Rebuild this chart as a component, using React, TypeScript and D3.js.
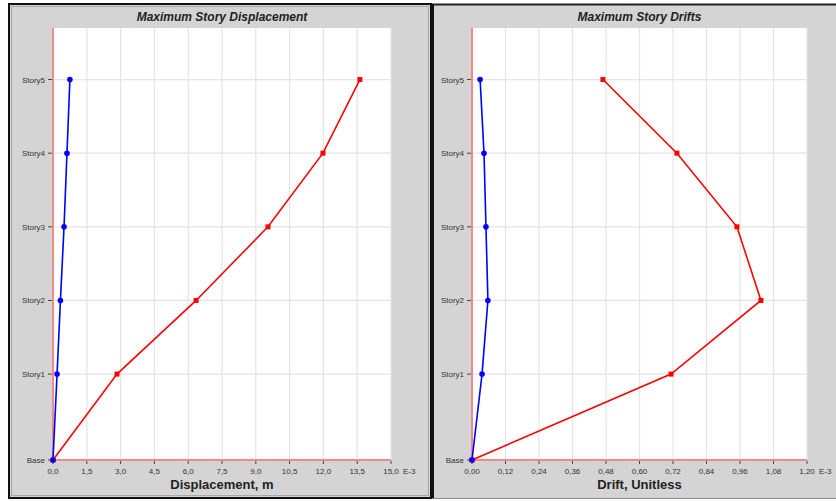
import React from 'react';
import * as d3 from 'd3';

// story levels (elevation, m) – base storey is a bit taller than the rest
const stories = ['Base', 'Story1', 'Story2', 'Story3', 'Story4', 'Story5'];
const elevations = [0, 3.5, 6.5, 9.5, 12.5, 15.5];

// Maximum Story Displacement (E-3 m)
const dispRed = [0, 2.84, 6.35, 9.54, 11.98, 13.62];
const dispBlue = [0, 0.18, 0.33, 0.49, 0.62, 0.75];
const dispTicks = [0, 1.5, 3.0, 4.5, 6.0, 7.5, 9.0, 10.5, 12.0, 13.5, 15.0];

// Maximum Story Drifts (E-3)
const driftRed = [0, 0.713, 1.035, 0.949, 0.734, 0.469];
const driftBlue = [0, 0.036, 0.057, 0.050, 0.043, 0.029];
const driftTicks = [0, 0.12, 0.24, 0.36, 0.48, 0.6, 0.72, 0.84, 0.96, 1.08, 1.2];

const FONT = '"Liberation Sans", Arial, sans-serif';
const PANEL_BG = '#d4d4d4';
const AXIS_RED = '#f08a8a';

interface PanelProps {
  title: string;
  xLabel: string;
  red: number[];
  blue: number[];
  ticks: number[];
  digits: number;
  left: number;
  right: number;
}

const Panel: React.FC<PanelProps> = ({ title, xLabel, red, blue, ticks, digits, left, right }) => {
  const top = 28, base = 460;
  const x = d3.scaleLinear().domain([0, ticks[ticks.length - 1]]).range([left, right]);
  const y = d3.scaleLinear().domain([0, 17.6]).range([base, top]);
  const line = d3.line<number>().x(d => x(d)).y((_, i) => y(elevations[i]));
  const fmt = (v: number) => d3.format(`.${digits}f`)(v).replace('.', ',');
  const cx = (left + right) / 2;

  return (
    <g>
      <rect x={left} y={top} width={right - left} height={base - top} fill="#fff" />
      {/* grid */}
      {ticks.slice(1).map(t => (
        <line key={t} x1={x(t)} x2={x(t)} y1={top} y2={base} stroke="#e4e4e4" strokeWidth={1.2} />
      ))}
      {elevations.slice(1).map(e => (
        <line key={e} x1={left} x2={right} y1={y(e)} y2={y(e)} stroke="#e4e4e4" strokeWidth={1.2} />
      ))}
      {/* axes */}
      <line x1={left} x2={left} y1={top} y2={base} stroke={AXIS_RED} strokeWidth={2} />
      <line x1={left} x2={right} y1={base} y2={base} stroke={AXIS_RED} strokeWidth={2} />
      {stories.map((s, i) => (
        <g key={s}>
          <line x1={left - 5} x2={left - 1} y1={y(elevations[i])} y2={y(elevations[i])} stroke="#444" />
          <text x={left - 8} y={y(elevations[i]) + 3} fontSize={8} fill="#333" textAnchor="end" fontFamily={FONT}>{s}</text>
        </g>
      ))}
      {ticks.map((t, i) => (
        <g key={t}>
          <line x1={x(t)} x2={x(t)} y1={base + 1} y2={base + 4} stroke="#444" />
          <text x={x(t)} y={474} fontSize={8} fill="#333" textAnchor="middle" fontFamily={FONT}>{fmt(t)}</text>
          {i === ticks.length - 1 && (
            <text x={x(t) + 12} y={474} fontSize={8} fill="#333" fontFamily={FONT}>E-3</text>
          )}
        </g>
      ))}
      {/* series */}
      <path d={line(red) || ''} fill="none" stroke="#ff0000" strokeWidth={1.6} />
      {red.map((v, i) => (
        <rect key={i} x={x(v) - 2.5} y={y(elevations[i]) - 2.5} width={5} height={5} fill="#ff0000" />
      ))}
      <path d={line(blue) || ''} fill="none" stroke="#0000ff" strokeWidth={1.6} />
      {blue.map((v, i) => (
        <circle key={i} cx={x(v)} cy={y(elevations[i])} r={2.8} fill="#0000ff" />
      ))}
      <text x={cx} y={21} fontSize={12} fontWeight="bold" fontStyle="italic" textAnchor="middle" fill="#222" fontFamily={FONT}>{title}</text>
      <text x={cx} y={489} fontSize={13} fontWeight="bold" textAnchor="middle" fill="#222" fontFamily={FONT}>{xLabel}</text>
    </g>
  );
};

const App: React.FC = () => {
  return (
    <svg width={836} height={501} style={{ position: 'absolute', left: 0, top: 0, background: '#fff' }}>
      {/* left panel frame */}
      <rect x={9} y={4} width={422} height={494} fill={PANEL_BG} stroke="#111" strokeWidth={2} />
      <rect x={11.5} y={6.5} width={417} height={489} fill="none" stroke="#a8a8a8" strokeWidth={1} />
      {/* right panel frame (runs past the image edge) */}
      <rect x={432} y={4} width={410} height={495} fill={PANEL_BG} stroke="none" />
      <line x1={432} x2={836} y1={4.5} y2={4.5} stroke="#222" strokeWidth={2} />
      <line x1={433} x2={433} y1={4} y2={499} stroke="#111" strokeWidth={2} />
      <line x1={432} x2={836} y1={498.5} y2={498.5} stroke="#888" strokeWidth={1} />

      <Panel title="Maximum Story Displacement" xLabel="Displacement, m" red={dispRed} blue={dispBlue}
        ticks={dispTicks} digits={1} left={53} right={391} />
      <Panel title="Maximum Story Drifts" xLabel="Drift, Unitless" red={driftRed} blue={driftBlue}
        ticks={driftTicks} digits={2} left={472} right={807} />
    </svg>
  );
};

export default App;
